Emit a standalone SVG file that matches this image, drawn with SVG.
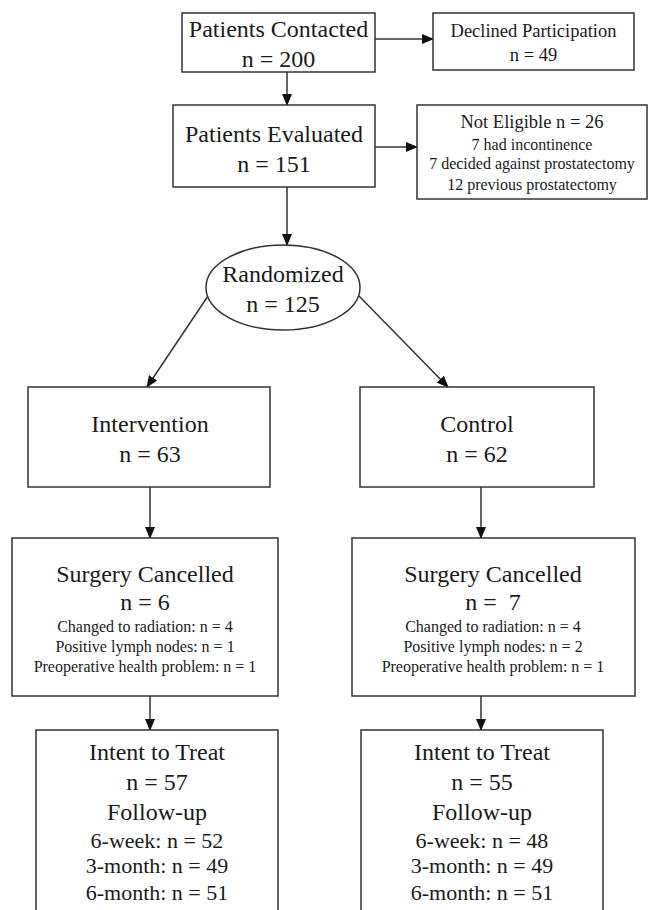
<svg xmlns="http://www.w3.org/2000/svg" width="649" height="910" viewBox="0 0 649 910">
<style>
.box{fill:#fff;stroke:#333;stroke-width:1.5}
.ln{stroke:#333;stroke-width:1.5;fill:none}
text{font-family:"Liberation Serif","Times New Roman",serif;fill:#1a1a1a;text-anchor:middle}
.l{font-size:24px}
.m{font-size:18.5px}
.s{font-size:16px}
.f{font-size:22px}
</style>
<defs>
<marker id="ah" markerUnits="userSpaceOnUse" markerWidth="12" markerHeight="10" refX="11" refY="5" orient="auto">
<path d="M0,0 L12,5 L0,10 Z" fill="#111"/>
</marker>
</defs>
<rect width="649" height="910" fill="#fff"/>
<g id="connectors">
<line class="ln" x1="375" y1="39" x2="433" y2="39" marker-end="url(#ah)"/>
<line class="ln" x1="287" y1="72" x2="287" y2="105" marker-end="url(#ah)"/>
<line class="ln" x1="375" y1="147" x2="417" y2="147" marker-end="url(#ah)"/>
<line class="ln" x1="287" y1="187" x2="287" y2="245" marker-end="url(#ah)"/>
<line class="ln" x1="208" y1="296" x2="147" y2="387" marker-end="url(#ah)"/>
<line class="ln" x1="359" y1="296" x2="448" y2="387" marker-end="url(#ah)"/>
<line class="ln" x1="150" y1="487" x2="150" y2="538" marker-end="url(#ah)"/>
<line class="ln" x1="481" y1="487" x2="481" y2="538" marker-end="url(#ah)"/>
<line class="ln" x1="150" y1="696" x2="150" y2="730" marker-end="url(#ah)"/>
<line class="ln" x1="481" y1="696" x2="481" y2="730" marker-end="url(#ah)"/>
</g>
<g id="contacted">
<rect class="box" x="182" y="13" width="193" height="59"/>
<text class="l" x="278.5" y="37">Patients Contacted</text>
<text class="l" x="278.5" y="67">n = 200</text>
</g>
<g id="declined">
<rect class="box" x="433" y="13" width="201" height="57"/>
<text class="m" x="533.5" y="37">Declined Participation</text>
<text class="m" x="533.5" y="61">n = 49</text>
</g>
<g id="evaluated">
<rect class="box" x="173" y="105" width="202" height="82"/>
<text class="l" x="274" y="142">Patients Evaluated</text>
<text class="l" x="274" y="172">n = 151</text>
</g>
<g id="noteligible">
<rect class="box" x="417" y="105" width="230" height="94"/>
<text class="m" x="532" y="128">Not Eligible n = 26</text>
<text class="s" x="532" y="150">7 had incontinence</text>
<text class="s" x="532" y="169">7 decided against prostatectomy</text>
<text class="s" x="532" y="190">12 previous prostatectomy</text>
</g>
<g id="randomized">
<ellipse class="box" cx="283" cy="287.5" rx="77" ry="42.5"/>
<text class="l" x="283" y="282">Randomized</text>
<text class="l" x="283" y="312">n = 125</text>
</g>
<g id="intervention">
<rect class="box" x="28" y="387" width="242" height="100"/>
<text class="l" x="150" y="432">Intervention</text>
<text class="l" x="150" y="462">n = 63</text>
</g>
<g id="control">
<rect class="box" x="360" y="387" width="234" height="100"/>
<text class="l" x="477" y="432">Control</text>
<text class="l" x="477" y="462">n = 62</text>
</g>
<g id="cancel-left">
<rect class="box" x="12" y="538" width="266" height="158"/>
<text class="l" x="145" y="582">Surgery Cancelled</text>
<text class="l" x="145" y="610">n = 6</text>
<text class="s" x="145" y="632">Changed to radiation: n = 4</text>
<text class="s" x="145" y="652">Positive lymph nodes: n = 1</text>
<text class="s" x="145" y="672">Preoperative health problem: n = 1</text>
</g>
<g id="cancel-right">
<rect class="box" x="352" y="538" width="283" height="158"/>
<text class="l" x="493" y="582">Surgery Cancelled</text>
<text class="l" x="493" y="610">n =&#160; 7</text>
<text class="s" x="493" y="632">Changed to radiation: n = 4</text>
<text class="s" x="493" y="652">Positive lymph nodes: n = 2</text>
<text class="s" x="493" y="672">Preoperative health problem: n = 1</text>
</g>
<g id="itt-left">
<rect class="box" x="36" y="730" width="242" height="200"/>
<text class="l" x="157" y="760">Intent to Treat</text>
<text class="l" x="157" y="790">n = 57</text>
<text class="l" x="157" y="820">Follow-up</text>
<text class="f" x="157" y="848">6-week: n = 52</text>
<text class="f" x="157" y="873">3-month: n = 49</text>
<text class="f" x="157" y="900">6-month: n = 51</text>
</g>
<g id="itt-right">
<rect class="box" x="361" y="730" width="242" height="200"/>
<text class="l" x="482" y="760">Intent to Treat</text>
<text class="l" x="482" y="790">n = 55</text>
<text class="l" x="482" y="820">Follow-up</text>
<text class="f" x="482" y="848">6-week: n = 48</text>
<text class="f" x="482" y="873">3-month: n = 49</text>
<text class="f" x="482" y="900">6-month: n = 51</text>
</g>
</svg>
